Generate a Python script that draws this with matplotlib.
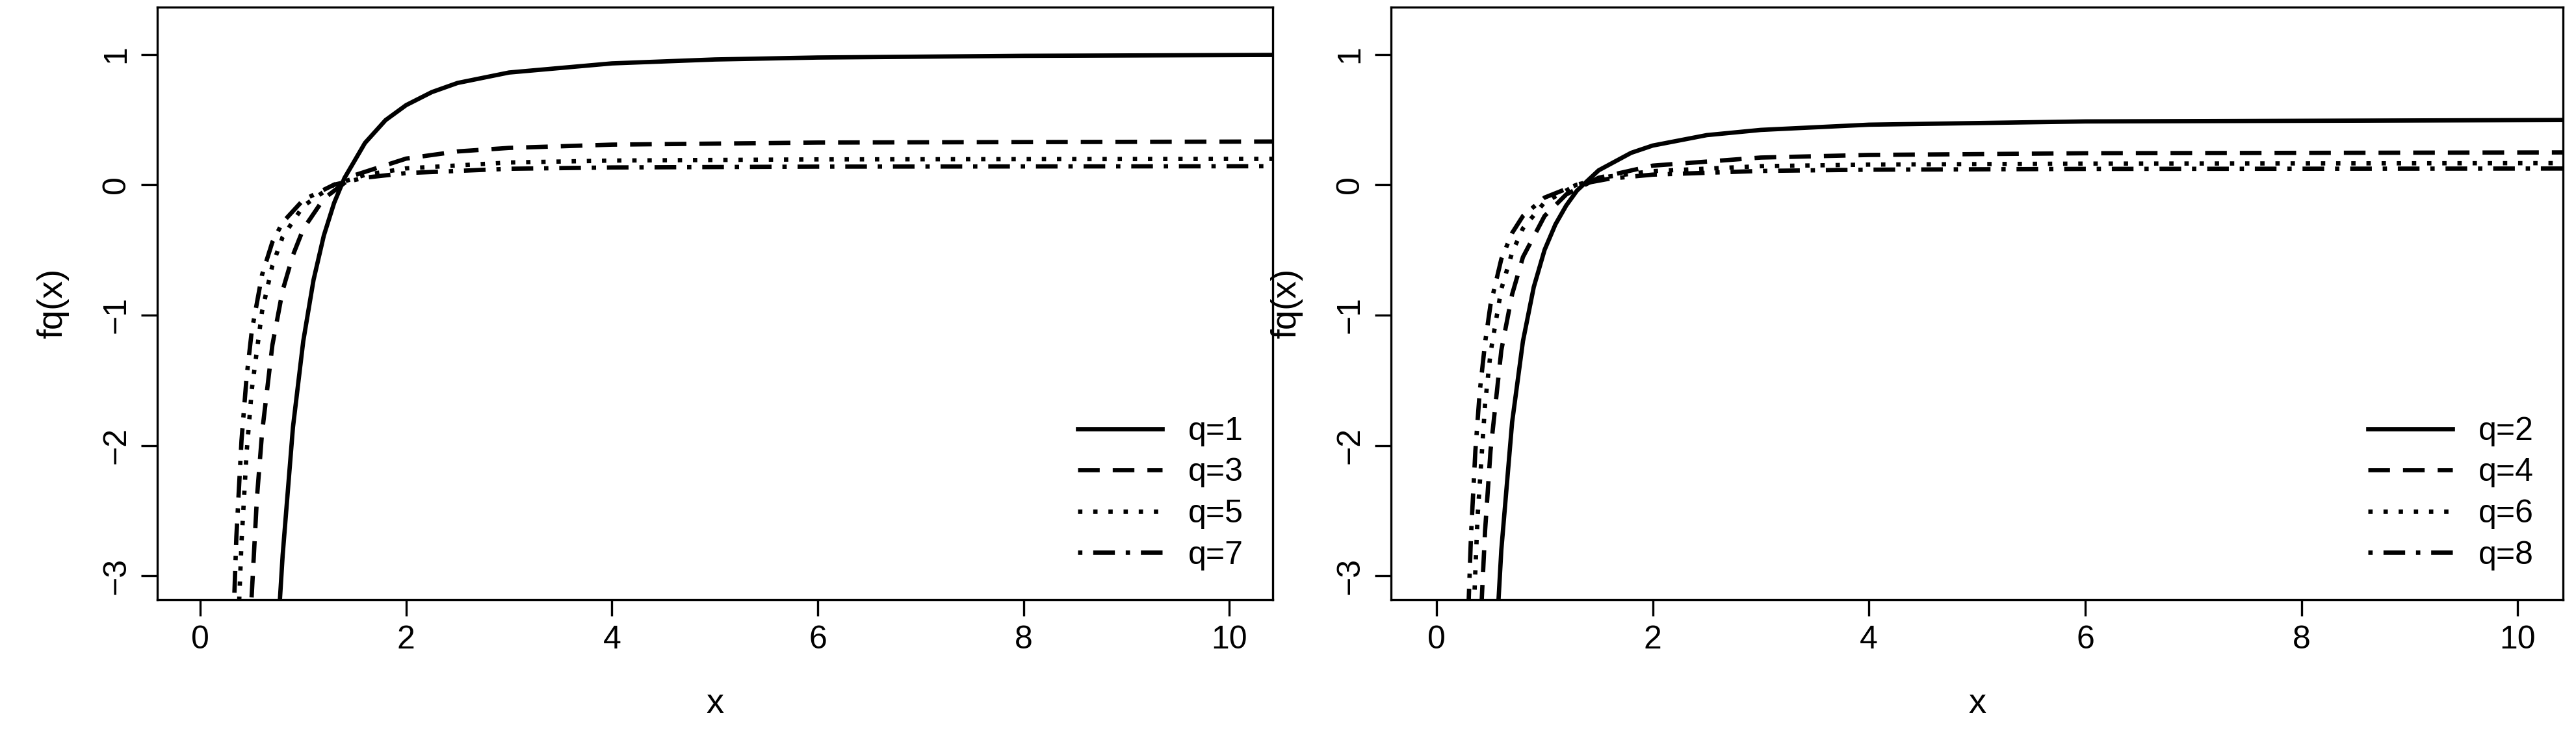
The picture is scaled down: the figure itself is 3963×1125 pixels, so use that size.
import matplotlib
matplotlib.use("Agg")
import matplotlib.pyplot as plt

# values (left panel: odd q, right panel: even q)
x_q1 = [0.76, 0.8, 0.9, 1.0, 1.1, 1.2, 1.3, 1.4, 1.6, 1.8, 2.0, 2.25, 2.5, 3.0, 4.0, 5.0, 6.0, 8.0, 10.5]
y_q1 = [-3.35, -2.84, -1.86, -1.20, -0.73, -0.39, -0.14, 0.05, 0.32, 0.495, 0.61, 0.71, 0.78, 0.86, 0.93, 0.96, 0.975, 0.988, 0.995]
x_q3 = [0.48, 0.55, 0.6, 0.7, 0.8, 0.9, 1.0, 1.2, 1.5, 2.0, 2.5, 3.0, 4.0, 6.0, 10.5]
y_q3 = [-3.43, -2.4, -1.9, -1.23, -0.81, -0.54, -0.34, -0.107, 0.073, 0.2, 0.255, 0.282, 0.307, 0.323, 0.331]
x_q5 = [0.36, 0.4, 0.45, 0.5, 0.6, 0.7, 0.8, 1.0, 1.3, 1.6, 2.0, 3.0, 4.0, 6.0, 10.5]
y_q5 = [-3.54, -2.74, -2.05, -1.57, -0.97, -0.62, -0.40, -0.164, 0.0, 0.075, 0.125, 0.170, 0.185, 0.194, 0.198]
x_q7 = [0.31, 0.35, 0.4, 0.45, 0.5, 0.6, 0.7, 0.8, 1.0, 1.3, 1.6, 2.0, 3.0, 4.0, 6.0, 10.5]
y_q7 = [-3.61, -2.70, -1.96, -1.47, -1.12, -0.69, -0.44, -0.289, -0.117, 0.0, 0.054, 0.089, 0.122, 0.132, 0.1385, 0.1417]

x_q2 = [0.56, 0.6, 0.7, 0.8, 0.9, 1.0, 1.1, 1.2, 1.3, 1.5, 1.8, 2.0, 2.5, 3.0, 4.0, 6.0, 10.5]
y_q2 = [-3.39, -2.8, -1.82, -1.2, -0.785, -0.5, -0.305, -0.16, -0.045, 0.11, 0.244, 0.30, 0.38, 0.42, 0.46, 0.485, 0.496]
x_q4 = [0.4, 0.45, 0.5, 0.6, 0.7, 0.8, 1.0, 1.2, 1.5, 2.0, 3.0, 4.0, 6.0, 10.5]
y_q4 = [-3.5, -2.65, -2.04, -1.27, -0.84, -0.555, -0.24, -0.075, 0.053, 0.146, 0.208, 0.228, 0.241, 0.2475]
x_q6 = [0.33, 0.38, 0.45, 0.5, 0.6, 0.7, 0.8, 1.0, 1.3, 1.6, 2.0, 3.0, 4.0, 6.0, 10.5]
y_q6 = [-3.57, -2.55, -1.68, -1.29, -0.80, -0.52, -0.335, -0.135, 0.0, 0.063, 0.104, 0.142, 0.154, 0.1615, 0.1653]
x_q8 = [0.29, 0.32, 0.36, 0.4, 0.45, 0.5, 0.6, 0.7, 0.8, 1.0, 1.3, 1.6, 2.0, 3.0, 4.0, 6.0, 10.5]
y_q8 = [-3.38, -2.68, -2.04, -1.59, -1.21, -0.92, -0.57, -0.37, -0.24, -0.099, 0.0, 0.046, 0.077, 0.1055, 0.115, 0.121, 0.124]

left = [("q=1", x_q1, y_q1), ("q=3", x_q3, y_q3), ("q=5", x_q5, y_q5), ("q=7", x_q7, y_q7)]
right = [("q=2", x_q2, y_q2), ("q=4", x_q4, y_q4), ("q=6", x_q6, y_q6), ("q=8", x_q8, y_q8)]
styles = ["-", (0, (5, 3)), (0, (1, 2.5)), (0, (1, 2.5, 5, 2.5))]

plt.rcParams["font.family"] = ["Liberation Sans", "DejaVu Sans"]
fig = plt.figure(figsize=(13.21, 3.75), dpi=300)
boxes = [[0.061, 0.18, 0.433, 0.81], [0.540, 0.18, 0.455, 0.81]]

for box, series in zip(boxes, [left, right]):
    ax = fig.add_axes(box)
    for (lab, xs, ys), ls in zip(series, styles):
        ax.plot(xs, ys, color="black", linestyle=ls, linewidth=1.6, label=lab)
    ax.set_xlim(-0.42, 10.42)
    ax.set_ylim(-3.18, 1.36)
    ax.set_xticks([0, 2, 4, 6, 8, 10])
    ax.set_yticks([-3, -2, -1, 0, 1])
    ax.tick_params(labelsize=12, length=6)
    for t in ax.get_yticklabels():
        t.set_rotation(90)
        t.set_va("center")
    ax.set_xlabel("x", fontsize=13, labelpad=12)
    ax.set_ylabel("fq(x)", fontsize=13, labelpad=12)
    ax.legend(loc="lower right", frameon=False, fontsize=12, handlelength=2.6,
              labelspacing=0.35)

fig.savefig("out.png", dpi=300)
